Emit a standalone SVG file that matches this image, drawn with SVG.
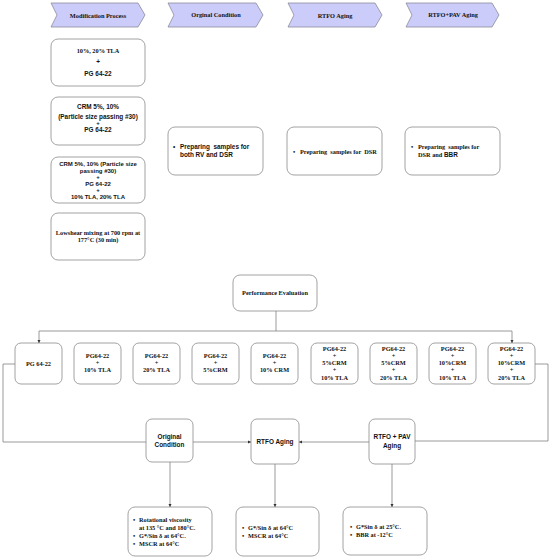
<svg xmlns="http://www.w3.org/2000/svg" width="550" height="558" viewBox="0 0 550 558">
<style>
.chev{fill:#ccccfa;stroke:#8a8a9a;stroke-width:0.8;stroke-linejoin:round}
.box{fill:#fff;stroke:#8c8c8c;stroke-width:0.8}
.s{font-family:"Liberation Serif","Times New Roman",serif;font-weight:bold;font-size:6.3px;fill:#111}
.a{font-family:"Liberation Sans",Arial,sans-serif;font-weight:bold;font-size:6.4px;fill:#111}
.t{font-size:6px}
.p{white-space:pre}
.m{text-anchor:middle}
.c{fill:none;stroke:#808080;stroke-width:0.8}
</style>
<defs>
<marker id="ah" viewBox="0 0 6 6" refX="6" refY="3" markerWidth="4" markerHeight="4" orient="auto"><path d="M0,0L6,3L0,6z" fill="#333"/></marker>
</defs>
<rect width="550" height="558" fill="#fff"/>

<g id="hdr-modification"><path class="chev" d="M51,3H138L145,15L138,27H51L57,15Z"/><text class="s m" x="98" y="17.5">Modification Process</text></g>
<g id="hdr-original"><path class="chev" d="M168,3H256L263,15L256,27H168L174,15Z"/><text class="s m" x="216" y="17">Orginal Condition</text></g>
<g id="hdr-rtfo"><path class="chev" d="M288,3H375L382,15L375,27H288L294,15Z"/><text class="s m" x="335" y="17.5">RTFO Aging</text></g>
<g id="hdr-pav"><path class="chev" d="M406,3H492L499,15L492,27H406L412,15Z"/><text class="s m" x="453" y="17">RTFO+PAV Aging</text></g>

<g id="mod1"><rect class="box" x="51" y="39" width="94" height="47" rx="7"/>
<text class="s m" x="98" y="53">10%, 20% TLA</text><text class="a m" x="98" y="64">+</text><text class="a m" x="98" y="76">PG 64-22</text></g>
<g id="mod2"><rect class="box" x="51" y="97" width="94" height="48" rx="7"/>
<text class="a m" x="98" y="109">CRM 5%, 10%</text><text class="a m" x="98" y="118.5">(Particle size passing #30)</text><text class="a m t" x="98" y="125">+</text><text class="a m" x="98" y="132">PG 64-22</text></g>
<g id="mod3"><rect class="box" x="51" y="157" width="94" height="46" rx="7"/>
<text class="a m t" x="98" y="166">CRM 5%, 10% (Particle size</text><text class="a m t" x="98" y="172.5">passing #30)</text><text class="a m t" x="98" y="179">+</text><text class="a m t" x="98" y="185.5">PG 64-22</text><text class="a m t" x="98" y="192">+</text><text class="a m t" x="98" y="198.5">10% TLA, 20% TLA</text></g>
<g id="mod4"><rect class="box" x="51" y="213" width="94" height="47" rx="7"/>
<text class="s m" x="98" y="235">Lowshear mixing at 700 rpm at</text><text class="s m" x="98" y="242">177°C (30 min)</text></g>

<g id="prep-original"><rect class="box" x="168" y="127" width="95" height="48" rx="7"/>
<text class="a" x="173" y="149">•</text><text class="a p" x="180" y="149">Preparing  samples for</text><text class="a" x="180" y="157">both RV and DSR</text></g>
<g id="prep-rtfo"><rect class="box" x="287" y="127" width="95" height="48" rx="7"/>
<text class="s" x="293" y="154">•</text><text class="s p" x="300" y="154">Preparing  samples for  DSR</text></g>
<g id="prep-pav"><rect class="box" x="405" y="127" width="95" height="48" rx="7"/>
<text class="s" x="411" y="149">•</text><text class="s p" x="418" y="149">Preparing  samples for</text><text class="s" x="418" y="156.5">DSR and <tspan class="a">BBR</tspan></text></g>

<g id="perf"><rect class="box" x="233" y="275" width="84" height="36" rx="7"/><text class="s m" x="275" y="295">Performance Evaluation</text></g>

<g id="b1"><rect class="box" x="15" y="343" width="47" height="41" rx="6"/><text class="s m" x="38.5" y="366">PG 64-22</text></g>
<g id="b2"><rect class="box" x="74" y="343" width="47" height="41" rx="6"/><text class="s m" x="97.5" y="358">PG64-22</text><text class="s m" x="97.5" y="365">+</text><text class="s m" x="97.5" y="372">10% TLA</text></g>
<g id="b3"><rect class="box" x="133" y="343" width="47" height="41" rx="6"/><text class="s m" x="156.5" y="358">PG64-22</text><text class="s m" x="156.5" y="365">+</text><text class="s m" x="156.5" y="372">20% TLA</text></g>
<g id="b4"><rect class="box" x="192" y="343" width="47" height="41" rx="6"/><text class="s m" x="215.5" y="358">PG64-22</text><text class="s m" x="215.5" y="365">+</text><text class="s m" x="215.5" y="372">5%CRM</text></g>
<g id="b5"><rect class="box" x="251" y="343" width="47" height="41" rx="6"/><text class="s m" x="274.5" y="358">PG64-22</text><text class="s m" x="274.5" y="365">+</text><text class="s m" x="274.5" y="372">10% CRM</text></g>
<g id="b6"><rect class="box" x="311" y="343" width="47" height="41" rx="6"/><text class="s m" x="334.5" y="351">PG64-22</text><text class="s m" x="334.5" y="358">+</text><text class="s m" x="334.5" y="365">5%CRM</text><text class="s m" x="334.5" y="372">+</text><text class="s m" x="334.5" y="380">10% TLA</text></g>
<g id="b7"><rect class="box" x="370" y="343" width="47" height="41" rx="6"/><text class="s m" x="393.5" y="351">PG64-22</text><text class="s m" x="393.5" y="358">+</text><text class="s m" x="393.5" y="365">5%CRM</text><text class="s m" x="393.5" y="372">+</text><text class="s m" x="393.5" y="380">20% TLA</text></g>
<g id="b8"><rect class="box" x="429" y="343" width="47" height="41" rx="6"/><text class="s m" x="452.5" y="351">PG64-22</text><text class="s m" x="452.5" y="358">+</text><text class="s m" x="452.5" y="365">10%CRM</text><text class="s m" x="452.5" y="372">+</text><text class="s m" x="452.5" y="380">10% TLA</text></g>
<g id="b9"><rect class="box" x="488" y="343" width="47" height="41" rx="6"/><text class="s m" x="511.5" y="351">PG64-22</text><text class="s m" x="511.5" y="358">+</text><text class="s m" x="511.5" y="365">10%CRM</text><text class="s m" x="511.5" y="372">+</text><text class="s m" x="511.5" y="380">20% TLA</text></g>

<g id="orig"><rect class="box" x="146" y="419" width="47" height="43" rx="6"/><text class="a m" x="169.5" y="439">Original</text><text class="a m" x="169.5" y="447">Condition</text></g>
<g id="rtfo"><rect class="box" x="251" y="419" width="48" height="45" rx="6"/><text class="a m" x="275" y="444">RTFO Aging</text></g>
<g id="pav"><rect class="box" x="369" y="419" width="46" height="45" rx="6"/><text class="a m" x="392" y="439">RTFO + PAV</text><text class="a m" x="392" y="448">Aging</text></g>

<g id="res-orig"><rect class="box" x="128" y="507" width="84" height="49" rx="7"/>
<text class="s" x="133" y="522">•</text><text class="s" x="139" y="522">Rotational viscosity</text>
<text class="s" x="139" y="529.5">at 135 °C and 180°C.</text>
<text class="s" x="133" y="538">•</text><text class="s" x="139" y="538">G*/Sin δ at 64°C.</text>
<text class="s" x="133" y="546">•</text><text class="s" x="139" y="546">MSCR at 64°C</text></g>
<g id="res-rtfo"><rect class="box" x="236" y="507" width="83" height="49" rx="7"/>
<text class="s" x="242" y="530">•</text><text class="s" x="248" y="530">G*/Sin δ at 64°C</text>
<text class="s" x="242" y="538">•</text><text class="s" x="248" y="538">MSCR at 64°C</text></g>
<g id="res-pav"><rect class="box" x="343" y="507" width="84" height="48" rx="7"/>
<text class="s" x="350" y="529">•</text><text class="s" x="356" y="529">G*Sin δ at 25°C.</text>
<text class="s" x="350" y="537">•</text><text class="s" x="356" y="537">BBR at -12°C</text></g>

<g id="connectors">
<path class="c" d="M276,311V331"/>
<path class="c" d="M39,331H512"/>
<path class="c" d="M39,331V343" marker-end="url(#ah)"/>
<path class="c" d="M512,331V343" marker-end="url(#ah)"/>
<path class="c" d="M15,364H3V442H146"/>
<path class="c" d="M535,364H548V441H415"/>
<path class="c" d="M193,442H251" marker-end="url(#ah)"/>
<path class="c" d="M369,442H299" marker-end="url(#ah)"/>
<path class="c" d="M170,462V507" marker-end="url(#ah)"/>
<path class="c" d="M275,464V507" marker-end="url(#ah)"/>
<path class="c" d="M392,464V507" marker-end="url(#ah)"/>
</g>
</svg>
